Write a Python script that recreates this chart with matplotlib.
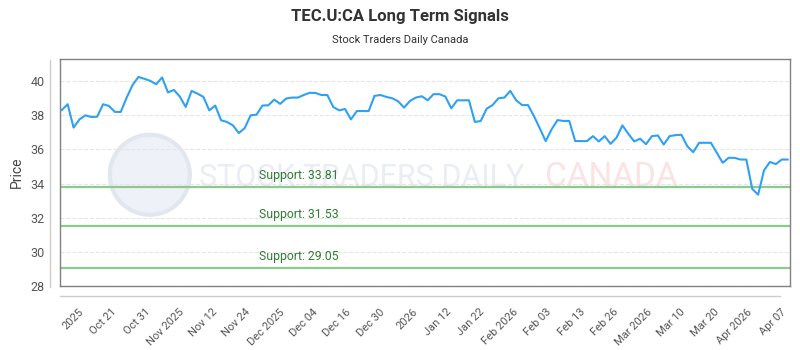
import numpy as np
import matplotlib
matplotlib.use("Agg")
import matplotlib.pyplot as plt
from matplotlib.lines import Line2D
from matplotlib.patches import Ellipse

plt.rcParams['font.family'] = ['Roboto', 'DejaVu Sans']

# closing prices, one per session
prices = [
    38.31, 38.65, 37.28, 37.76, 38.00, 37.90, 37.92, 38.65, 38.55, 38.20,
    38.20, 39.04, 39.78, 40.25, 40.14, 40.02, 39.82, 40.22, 39.34, 39.49,
    39.10, 38.49, 39.43, 39.27, 39.08, 38.29, 38.57, 37.71, 37.61, 37.41,
    36.96, 37.25, 38.00, 38.04, 38.57, 38.59, 38.92, 38.67, 38.98, 39.04,
    39.04, 39.19, 39.32, 39.31, 39.19, 39.19, 38.49, 38.29, 38.37, 37.76,
    38.25, 38.25, 38.25, 39.14, 39.19, 39.08, 39.00, 38.82, 38.45, 38.84,
    39.04, 39.12, 38.88, 39.24, 39.24, 39.10, 38.41, 38.88, 38.88, 38.88,
    37.61, 37.67, 38.39, 38.60, 39.00, 39.04, 39.43, 38.88, 38.60, 38.60,
    37.96, 37.24, 36.49, 37.18, 37.72, 37.67, 37.67, 36.49, 36.49, 36.49,
    36.78, 36.47, 36.78, 36.33, 36.69, 37.41, 36.92, 36.47, 36.63, 36.31,
    36.78, 36.82, 36.29, 36.78, 36.84, 36.86, 36.19, 35.84, 36.39, 36.39,
    36.39, 35.80, 35.22, 35.51, 35.51, 35.41, 35.41, 33.69, 33.35, 34.78,
    35.27, 35.14, 35.41, 35.41,
]

supports = [33.81, 31.53, 29.05]

tick_labels = ["2025", "Oct 21", "Oct 31", "Nov 2025", "Nov 12", "Nov 24",
               "Dec 2025", "Dec 04", "Dec 16", "Dec 30", "2026", "Jan 12",
               "Jan 22", "Feb 2026", "Feb 03", "Feb 13", "Feb 26", "Mar 2026",
               "Mar 10", "Mar 20", "Apr 2026", "Apr 07"]

x = np.arange(len(prices))

fig = plt.figure(figsize=(8, 3.5), dpi=100)
ax = fig.add_axes([60 / 800, 64 / 350, 730 / 800, 227 / 350])

# watermark (logo circle + name)
ax.add_patch(Ellipse((0.123, 0.49), 80 / 730, 80 / 227, transform=ax.transAxes,
                     facecolor='#eef2f8', edgecolor='#e2e7ef', lw=3, zorder=0))
ax.text(0.19, 0.48, "STOCK TRADERS DAILY", transform=ax.transAxes, fontsize=22,
        color='#eaedf3', va='center', ha='left', zorder=0)
ax.text(0.665, 0.48, "CANADA", transform=ax.transAxes, fontsize=24,
        color='#fce3e3', va='center', ha='left', zorder=0)

ax.plot(x, prices, color='#2ea1f2', lw=1.5, zorder=3)

for s in supports:
    ax.axhline(s, color='#8cc98c', lw=1.6, zorder=2)
    ax.text(33.5, s + 0.3, "Support: %.2f" % s, color='#2e7d32', fontsize=8.8,
            va='bottom', ha='left', zorder=4)

ax.set_xlim(-0.3, 123.4)
ax.set_ylim(28, 41.3)
ax.set_yticks(np.arange(28, 41, 2))
ax.grid(axis='y', color='#e6e6e6', ls='--', lw=0.8)
ax.set_axisbelow(True)

ax.set_xticks(np.linspace(2.8, 121.8, len(tick_labels)))
ax.set_xticklabels(tick_labels, rotation=45, ha='right', rotation_mode='anchor')
ax.tick_params(axis='x', length=0, pad=15, labelsize=8, labelcolor='#555555')
ax.tick_params(axis='y', length=0, pad=11, labelsize=9, labelcolor='#555555')

for sp in ax.spines.values():
    sp.set_color('#808080')
    sp.set_linewidth(1)

ax.set_ylabel("Price", fontsize=10, color='#444444', labelpad=5)

# outer axis lines
fig.add_artist(Line2D([50 / 800, 50 / 800], [1 - 60 / 350, 1 - 287 / 350],
                      color='#cccccc', lw=1))
fig.add_artist(Line2D([60 / 800, 780 / 800], [1 - 296 / 350, 1 - 296 / 350],
                      color='#cccccc', lw=1))

fig.text(0.5, 1 - 16 / 350, "TEC.U:CA Long Term Signals", ha='center', va='center',
         fontsize=12, fontweight='bold', color='#333333')
fig.text(0.5, 1 - 40 / 350, "Stock Traders Daily Canada", ha='center', va='center',
         fontsize=8, color='#333333')

fig.savefig("out.png", dpi=100)
